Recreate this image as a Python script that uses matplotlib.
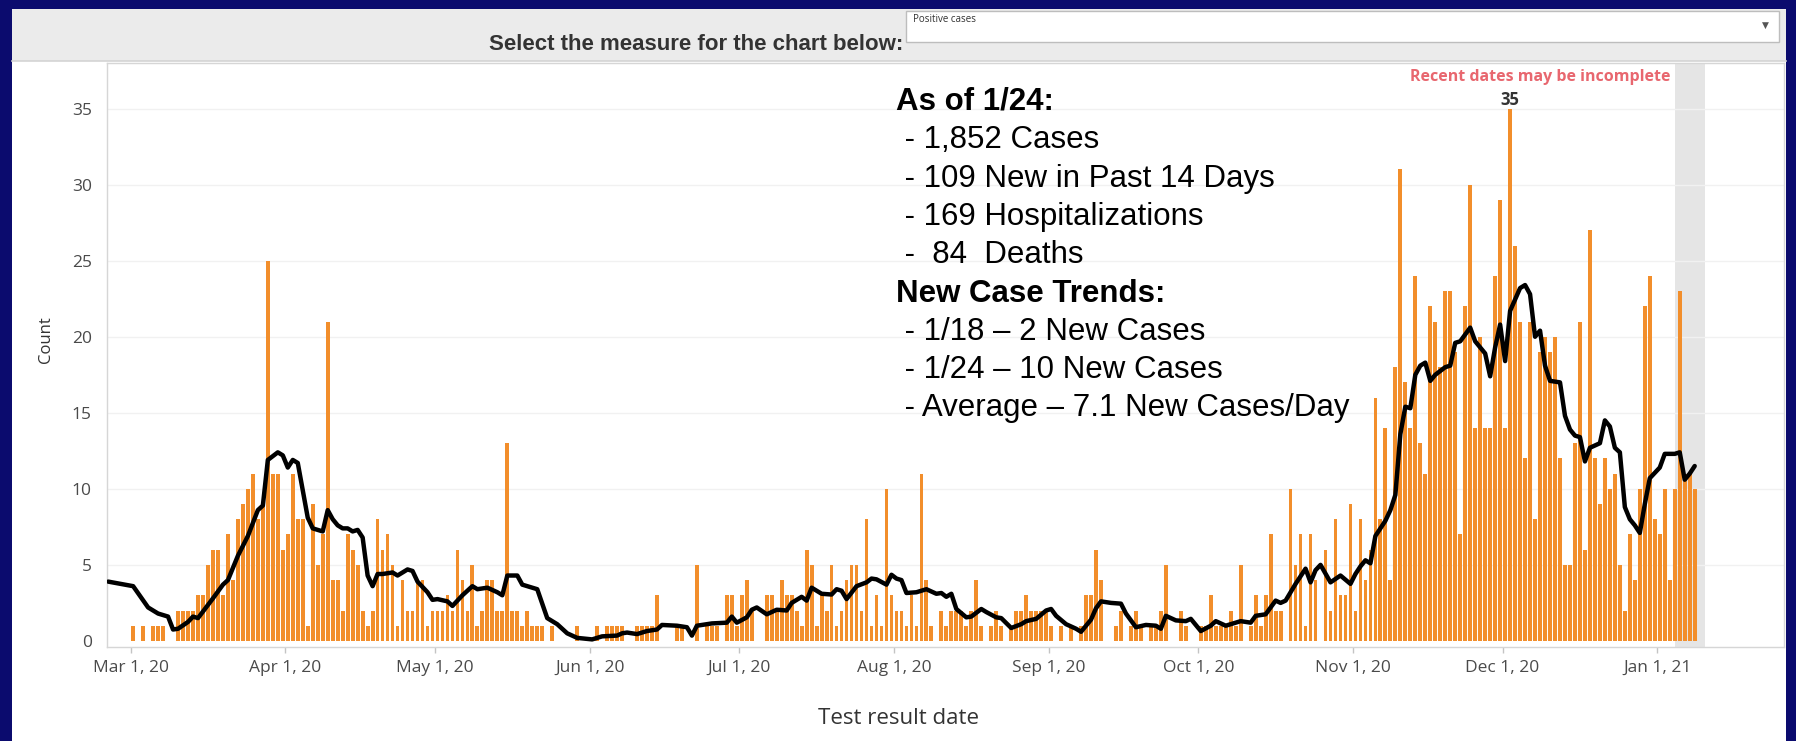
import numpy as np
import pandas as pd
import matplotlib
matplotlib.use("Agg")
import matplotlib.pyplot as plt
import matplotlib.dates as mdates
from matplotlib.patches import Rectangle
from matplotlib.lines import Line2D

# ---------------- data ----------------
start_date = "2020-03-01"
daily_cases = [
    1, 0, 1, 0, 1, 1, 1, 0, 0, 2,
    2, 2, 2, 3, 3, 5, 6, 6, 3, 7,
    4, 8, 9, 10, 11, 8, 9, 25, 11, 11,
    6, 7, 11, 8, 8, 1, 9, 5, 7, 21,
    4, 4, 2, 7, 6, 5, 2, 1, 2, 8,
    6, 7, 5, 1, 4, 2, 2, 4, 4, 1,
    2, 2, 2, 3, 2, 6, 4, 2, 5, 1,
    2, 4, 4, 2, 2, 13, 2, 2, 1, 2,
    1, 1, 1, 0, 1, 0, 0, 0, 0, 1,
    0, 0, 0, 1, 0, 1, 1, 1, 1, 0,
    0, 1, 1, 1, 1, 3, 0, 0, 0, 1,
    1, 0, 0, 5, 0, 1, 1, 1, 0, 3,
    3, 1, 3, 4, 2, 0, 0, 3, 3, 2,
    4, 3, 3, 2, 1, 6, 5, 1, 3, 2,
    5, 1, 2, 4, 5, 5, 2, 8, 1, 3,
    1, 10, 3, 2, 2, 1, 3, 1, 11, 4,
    1, 0, 2, 1, 2, 2, 2, 1, 2, 4,
    1, 0, 1, 2, 1, 0, 1, 2, 2, 3,
    2, 2, 2, 2, 1, 0, 1, 0, 1, 0,
    1, 3, 3, 6, 4, 0, 0, 1, 2, 0,
    1, 2, 1, 0, 1, 1, 2, 5, 0, 0,
    2, 1, 0, 0, 1, 1, 3, 1, 1, 1,
    2, 1, 5, 0, 1, 3, 1, 3, 7, 2,
    2, 0, 10, 5, 7, 1, 7, 4, 0, 6,
    2, 8, 3, 3, 9, 2, 8, 4, 6, 16,
    8, 14, 4, 18, 31, 17, 14, 24, 13, 11,
    22, 21, 18, 23, 23, 19, 7, 22, 30, 14,
    20, 14, 14, 24, 29, 14, 35, 26, 21, 12,
    21, 8, 19, 20, 19, 20, 12, 5, 5, 13,
    21, 6, 27, 12, 9, 12, 10, 11, 5, 2,
    7, 4, 10, 22, 24, 8, 7, 10, 4, 10,
    23, 11, 11, 10,
]

# 7-day average line (day offset from start_date, value)
avg_day = [
    -5, 0, 3, 5, 7, 8, 9, 11, 12, 13, 16, 18, 19, 21, 23, 25, 26, 27, 29, 30,
    31, 32, 33, 35, 36, 38, 39, 40, 41, 42, 43, 44, 45, 46, 47, 48, 49, 50, 52, 53,
    55, 56, 57, 59, 60, 61, 63, 64, 66, 68, 69, 71, 73, 74, 75, 77, 78, 81, 83, 85,
    87, 89, 92, 94, 97, 98, 99, 101, 103, 105, 106, 109, 111, 112, 113, 116, 119, 120, 121, 123,
    124, 125, 127, 129, 131, 132, 134, 135, 136, 138, 140, 141, 142, 143, 145, 147, 148, 149, 151, 152,
    153, 154, 155, 157, 159, 161, 162, 163, 164, 165, 167, 168, 170, 171, 173, 174, 176, 178, 179, 181,
    183, 184, 185, 187, 189, 190, 192, 193, 194, 196, 198, 199, 201, 203, 205, 206, 207, 209, 211, 212,
    214, 216, 217, 219, 221, 222, 224, 225, 227, 229, 230, 231, 233, 235, 236, 237, 238, 240, 242, 244,
    245, 246, 247, 248, 249, 251, 252, 253, 254, 255, 256, 257, 258, 259, 260, 261, 263, 264, 265, 266,
    268, 269, 271, 272, 273, 274, 275, 276, 278, 279, 280, 281, 282, 283, 284, 286, 287, 288, 289, 290,
    291, 292, 294, 295, 296, 297, 298, 299, 300, 301, 302, 303, 304, 306, 307, 309, 310, 311, 312, 313,
]
avg_value = [
    3.9, 3.6, 2.2, 1.8, 1.6, 0.75, 0.8, 1.25, 1.6, 1.5, 2.8, 3.7, 4.0, 5.6, 6.9, 8.6, 8.9, 11.9, 12.4, 12.2,
    11.4, 11.9, 11.7, 8.1, 7.4, 7.2, 8.6, 8.0, 7.6, 7.4, 7.4, 7.2, 7.3, 6.8, 4.3, 3.6, 4.4, 4.4, 4.5, 4.3,
    4.7, 4.6, 3.9, 3.2, 2.7, 2.75, 2.6, 2.3, 3.0, 3.6, 3.4, 3.5, 3.2, 3.0, 4.3, 4.3, 3.7, 3.4, 1.5, 1.1,
    0.5, 0.2, 0.1, 0.3, 0.35, 0.5, 0.55, 0.45, 0.65, 0.75, 1.05, 1.0, 0.9, 0.35, 1.0, 1.15, 1.2, 1.6, 1.2, 1.55,
    2.05, 2.2, 1.75, 2.05, 2.0, 2.5, 2.9, 2.65, 3.5, 3.1, 3.05, 3.4, 3.3, 2.75, 3.6, 3.85, 4.1, 4.05, 3.7, 4.35,
    4.1, 4.0, 3.15, 3.2, 3.4, 3.1, 3.15, 2.9, 3.1, 2.1, 1.55, 1.6, 2.1, 1.9, 1.55, 1.5, 0.85, 1.1, 1.3, 1.45,
    2.0, 2.1, 1.65, 1.1, 0.8, 0.6, 1.4, 2.15, 2.6, 2.5, 2.45, 1.8, 0.9, 1.05, 1.0, 0.8, 1.65, 1.35, 1.3, 1.45,
    0.65, 1.0, 1.3, 1.0, 1.2, 1.3, 1.2, 1.65, 1.75, 2.65, 2.5, 2.65, 3.75, 4.75, 3.85, 4.65, 5.0, 3.85, 4.3, 3.75,
    4.4, 4.9, 5.3, 5.1, 6.9, 7.9, 8.6, 9.6, 13.6, 15.4, 15.3, 17.5, 18.1, 18.3, 17.1, 17.5, 18.0, 18.1, 19.6, 19.7,
    20.6, 19.7, 18.9, 17.4, 19.3, 20.8, 18.4, 21.7, 23.2, 23.4, 22.8, 20.0, 20.4, 18.1, 17.1, 17.0, 14.8, 13.9, 13.5, 13.4,
    11.8, 12.7, 13.0, 14.5, 14.1, 12.7, 12.4, 8.8, 8.0, 7.6, 7.1, 9.0, 10.7, 11.4, 12.3, 12.3, 12.4, 10.6, 11.0, 11.5,
]

tick_dates = ["2020-03-01", "2020-04-01", "2020-05-01", "2020-06-01", "2020-07-01",
              "2020-08-01", "2020-09-01", "2020-10-01", "2020-11-01", "2020-12-01",
              "2021-01-01"]
tick_labels = ["Mar 1, 20", "Apr 1, 20", "May 1, 20", "Jun 1, 20", "Jul 1, 20",
               "Aug 1, 20", "Sep 1, 20", "Oct 1, 20", "Nov 1, 20", "Dec 1, 20",
               "Jan 1, 21"]
y_ticks = [0, 5, 10, 15, 20, 25, 30, 35]
recent_start = "2021-01-04"
recent_end = "2021-01-10"

info_lines = [
    ("As of 1/24:", True),
    (" - 1,852 Cases", False),
    (" - 109 New in Past 14 Days", False),
    (" - 169 Hospitalizations", False),
    (" -  84  Deaths", False),
    ("New Case Trends:", True),
    (" - 1/18 \u2013 2 New Cases", False),
    (" - 1/24 \u2013 10 New Cases", False),
    (" - Average \u2013 7.1 New Cases/Day", False),
]

# ---------------- figure ----------------
W, H = 1796, 741
fig = plt.figure(figsize=(W / 100, H / 100), dpi=100)
fig.patch.set_facecolor("#0b0b6e")

def fx(x):
    return x / W

def fy(y):
    return 1 - y / H

# white panel
fig.add_artist(Rectangle((fx(12), 0), fx(1786) - fx(12), fy(9), transform=fig.transFigure,
                         facecolor="white", edgecolor="none", zorder=0))
# header band
fig.add_artist(Rectangle((fx(12), fy(61)), fx(1786) - fx(12), fy(9) - fy(61), transform=fig.transFigure,
                         facecolor="#ebebeb", edgecolor="none", zorder=1))
fig.add_artist(Line2D([fx(12), fx(1786)], [fy(61), fy(61)], transform=fig.transFigure,
                      color="#d4d4d4", lw=1.2, zorder=2))
# dropdown box
fig.add_artist(Rectangle((fx(906), fy(42)), fx(1779) - fx(906), fy(11) - fy(42), transform=fig.transFigure,
                         facecolor="white", edgecolor="#bdbdbd", lw=1, zorder=2))
fig.text(fx(913), fy(20), "Positive cases", fontsize=7, color="#333333", ha="left", va="center",
         family=["Open Sans", "DejaVu Sans"], zorder=3)
fig.text(fx(1765), fy(25), "\u25bc", fontsize=6.5, color="#555555", ha="center", va="center", zorder=3)
fig.text(fx(903), fy(44), "Select the measure for the chart below:", fontsize=16, fontweight="bold",
         color="#333333", ha="right", va="center",
         family=["Liberation Sans", "DejaVu Sans"], zorder=3)

# ---------------- axes ----------------
ax = fig.add_axes([fx(107), fy(647), fx(1784) - fx(107), fy(63) - fy(647)])
ax.set_facecolor("white")

base = mdates.date2num(pd.Timestamp(start_date))
bar_x = base + np.arange(len(daily_cases)) + 0.5
line_x = base + np.array(avg_day) + 0.5

ax.axvspan(mdates.date2num(pd.Timestamp(recent_start)) + 0.5,
           mdates.date2num(pd.Timestamp(recent_end)) + 0.6,
           color="#e5e5e5", zorder=0, lw=0)

for yv in y_ticks[1:]:
    ax.axhline(yv, color="#f1f1f1", lw=1, zorder=0.5)

ax.bar(bar_x, daily_cases, width=0.76, color="#f28e2b", zorder=2, lw=0)
ax.plot(line_x, avg_value, color="black", lw=3.2, zorder=3, solid_joinstyle="round",
        solid_capstyle="round")

ax.set_xlim(base - 4.74, base + 331.4)
ax.set_ylim(-0.4, 38.0)

ax.set_xticks([mdates.date2num(pd.Timestamp(d)) for d in tick_dates])
ax.set_xticklabels(tick_labels)
ax.set_yticks(y_ticks)
ax.set_yticklabels([str(v) for v in y_ticks])

for lab in ax.get_xticklabels() + ax.get_yticklabels():
    lab.set_family(["Open Sans", "DejaVu Sans"])
    lab.set_fontsize(12.5)
    lab.set_color("#4a4a4a")

ax.tick_params(axis="x", length=4, width=1, color="#c4c4c4", pad=5, direction="out")
ax.tick_params(axis="y", length=0, pad=11)

for s in ax.spines.values():
    s.set_color("#d6d6d6")
    s.set_linewidth(1)

# peak label
peak = int(np.max(daily_cases))
pi = int(np.argmax(daily_cases))
ax.annotate(str(peak), xy=(bar_x[pi], peak), xytext=(0, 0), textcoords="offset points",
            ha="center", va="bottom", fontsize=12, fontweight="bold", color="#333333",
            family=["Open Sans", "DejaVu Sans"], zorder=4)

fig.text(fx(1670), fy(77), "Recent dates may be incomplete", fontsize=11.5, fontweight="bold",
         color="#e8676f", ha="right", va="center", family=["Open Sans", "DejaVu Sans"], zorder=4)

# axis titles
fig.text(fx(46), fy(340), "Count", rotation=90, fontsize=12, color="#333333", ha="center",
         va="center", family=["Open Sans", "DejaVu Sans"])
fig.text(fx(898), fy(719), "Test result date", fontsize=16, color="#333333", ha="center",
         va="center", family=["Open Sans", "DejaVu Sans"])

# info text block
y0 = 110
dy = 38.3
for i, (txt, bold) in enumerate(info_lines):
    fig.text(fx(896), fy(y0 + i * dy), txt, fontsize=22.5,
             fontweight="bold" if bold else "normal", color="black",
             ha="left", va="baseline", family=["Liberation Sans", "DejaVu Sans"], zorder=5)

fig.savefig("out.png", dpi=100, facecolor=fig.get_facecolor())
